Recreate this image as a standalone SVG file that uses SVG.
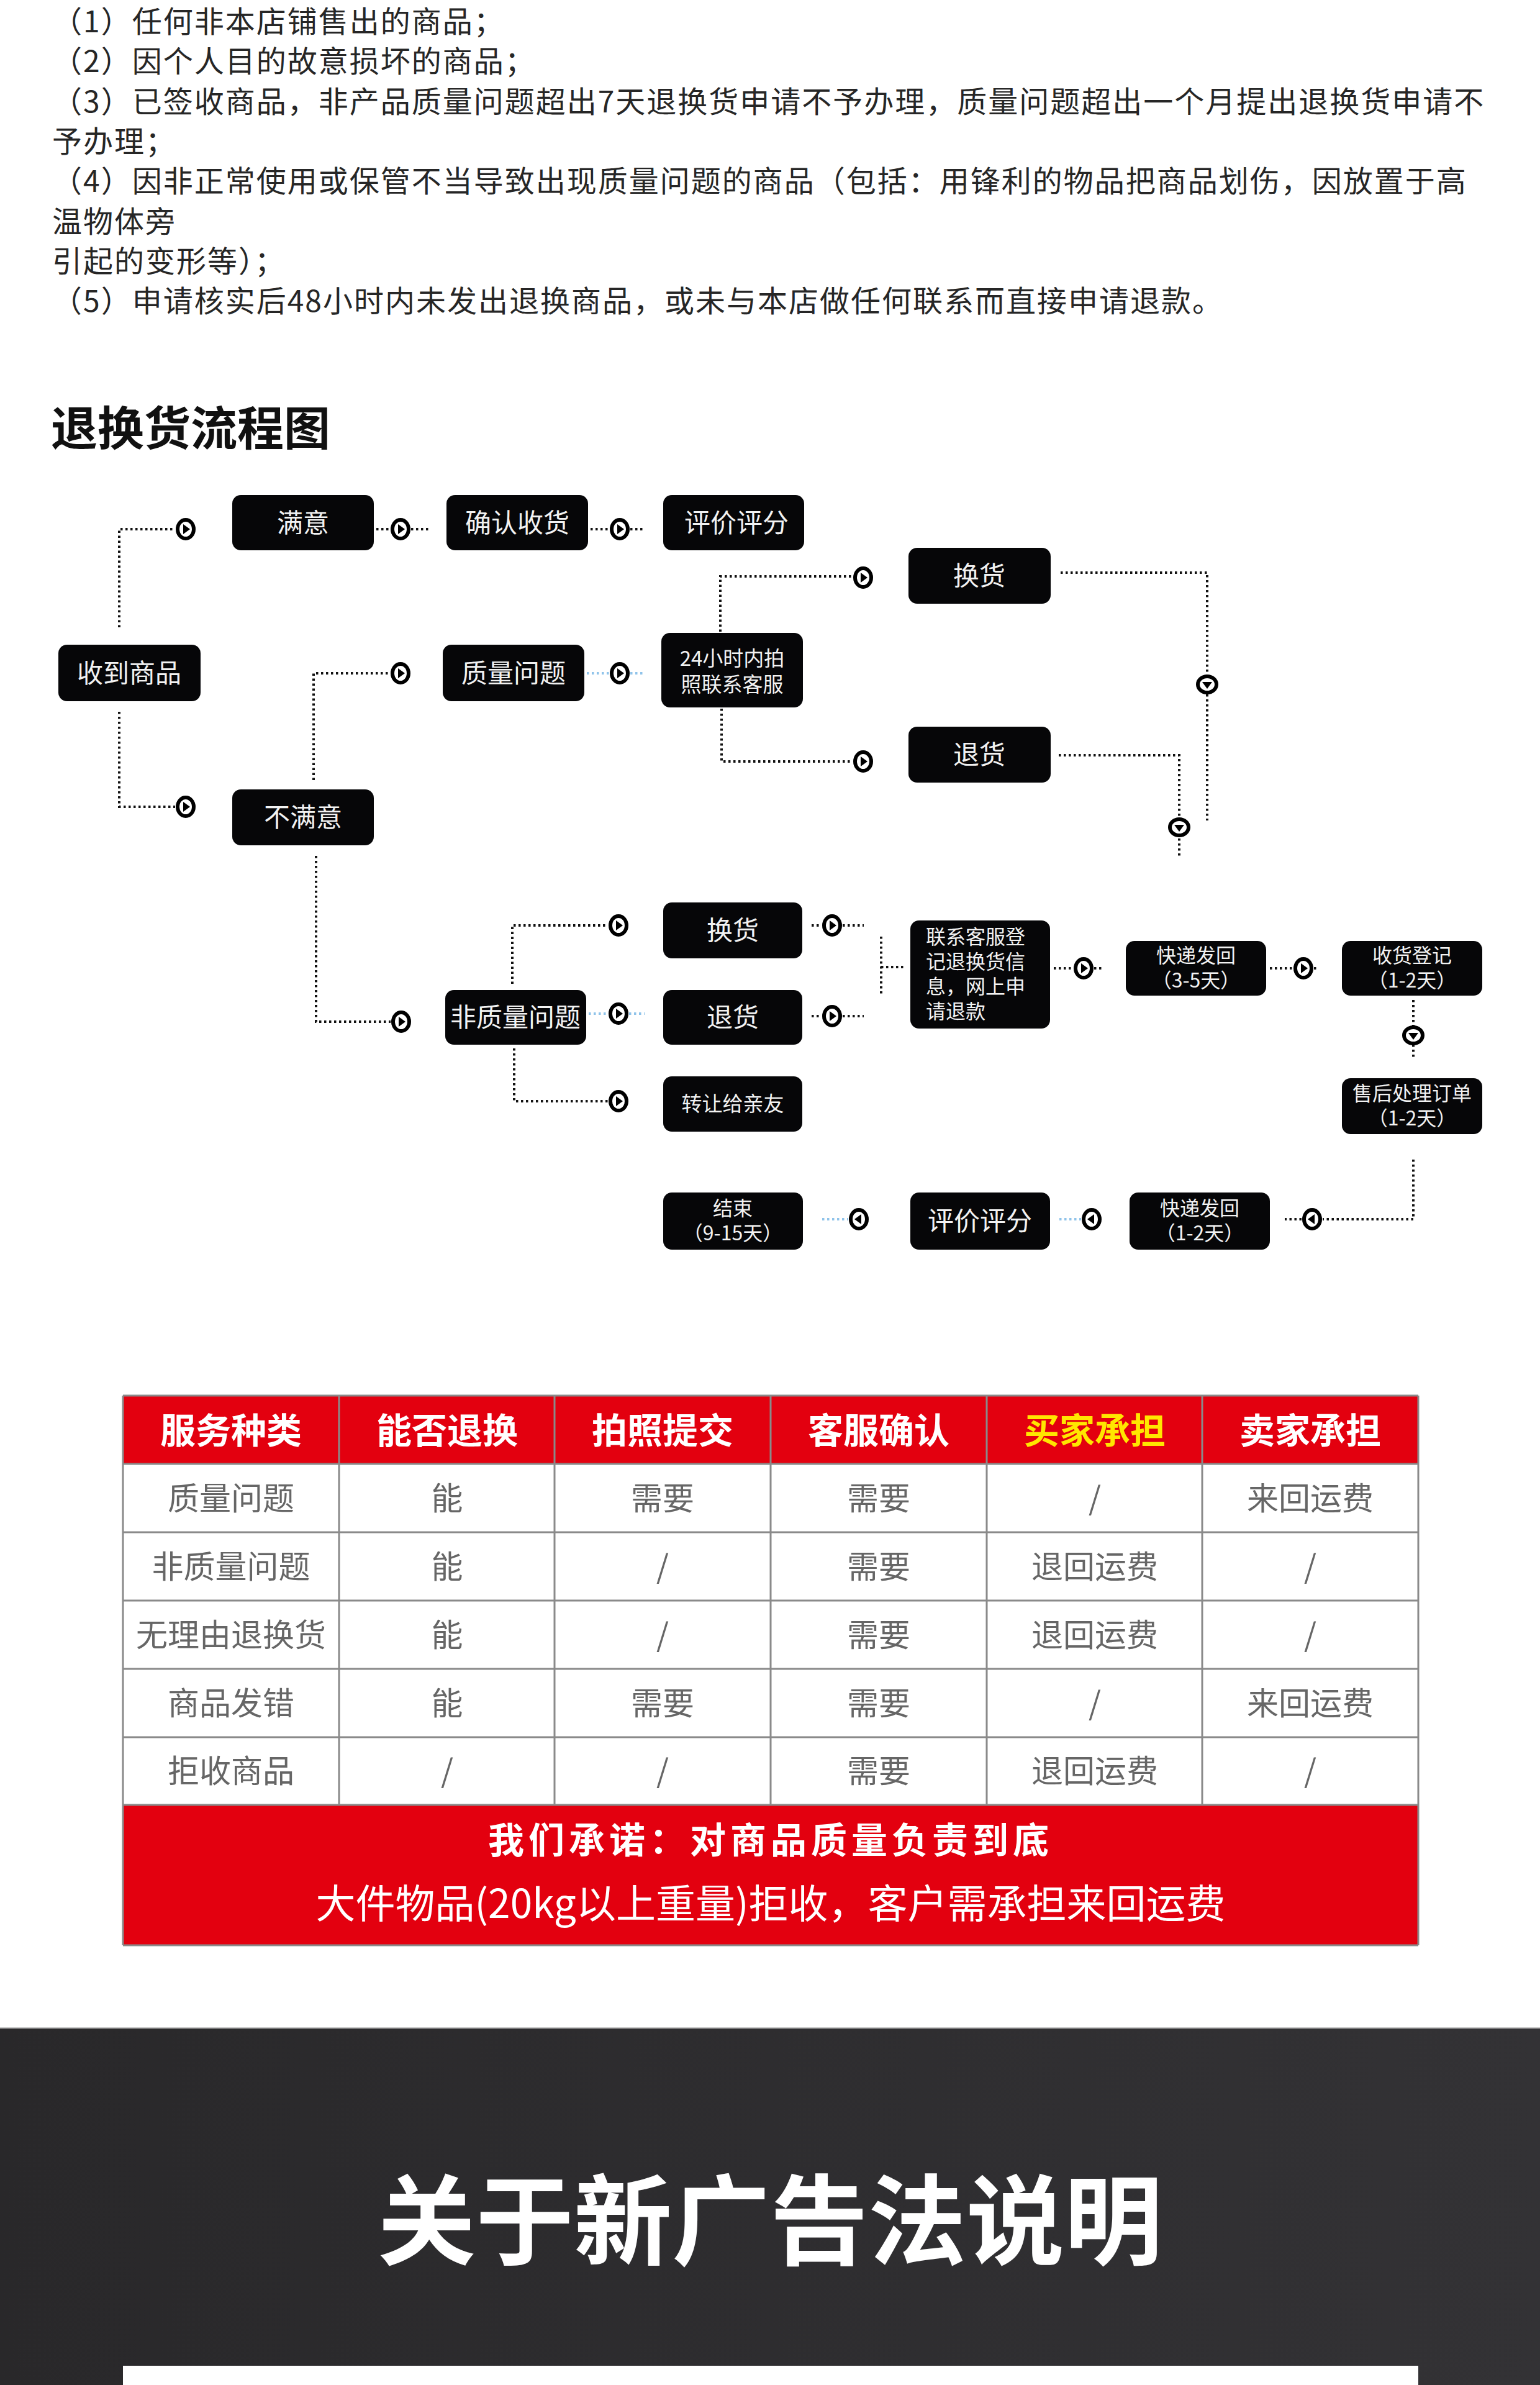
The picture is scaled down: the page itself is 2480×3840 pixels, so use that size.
<svg xmlns="http://www.w3.org/2000/svg" width="2480" height="3840" viewBox="0 0 2480 3840">
<style>
.t{font-family:"Noto Sans CJK SC","Noto Sans",sans-serif;}
.p{font-size:48px;letter-spacing:2px;fill:#262626;}
.bx{fill:#060608;}
.bt{font-size:42px;fill:#f2f2f2;text-anchor:middle;}
.bs{font-size:32px;fill:#f2f2f2;text-anchor:middle;}
.bm{font-size:33px;fill:#f2f2f2;text-anchor:middle;}
.bl{font-size:32px;fill:#f2f2f2;}
.dl{fill:none;stroke:#111;stroke-width:4;stroke-dasharray:3.5 4.5;}
.db{fill:none;stroke:#8fc3ea;stroke-width:4;stroke-dasharray:3.5 4.5;}
.th{font-size:57px;font-weight:700;fill:#fff;text-anchor:middle;}
.td{font-size:51px;fill:#666;text-anchor:middle;}
.gl{stroke:#8a8a8a;stroke-width:3;}
</style>
<defs>
<g id="mk"><ellipse cx="0" cy="0" rx="13" ry="15" fill="#fff" stroke="#000" stroke-width="6"/><path d="M-4,-8 L7,0 L-4,8 Z" fill="#000"/></g>
<linearGradient id="dk" x1="0" y1="0" x2="1" y2="0"><stop offset="0" stop-color="#29282a"/><stop offset="1" stop-color="#333235"/></linearGradient>
</defs>
<rect width="2480" height="3840" fill="#fff"/>

<g id="rules" class="t p">
<text x="84" y="52">（1）任何非本店铺售出的商品；</text>
<text x="84" y="116">（2）因个人目的故意损坏的商品；</text>
<text x="84" y="181">（3）已签收商品，非产品质量问题超出7天退换货申请不予办理，质量问题超出一个月提出退换货申请不</text>
<text x="84" y="245">予办理；</text>
<text x="84" y="309">（4）因非正常使用或保管不当导致出现质量问题的商品（包括：用锋利的物品把商品划伤，因放置于高</text>
<text x="84" y="374">温物体旁</text>
<text x="84" y="438">引起的变形等）；</text>
<text x="84" y="502">（5）申请核实后48小时内未发出退换商品，或未与本店做任何联系而直接申请退款。</text>
</g>

<text id="flow-title" class="t" x="82" y="717" font-size="75" font-weight="700" fill="#111">退换货流程图</text>

<g id="connectors">
<path class="dl" d="M192,1010 V852 H282"/>
<path class="dl" d="M192,1146 V1299 H282"/>
<path class="dl" d="M606,852 H628 M662,852 H690"/>
<path class="dl" d="M951,852 H981 M1015,852 H1036"/>
<path class="dl" d="M505,1256 V1084 H628"/>
<path class="db" d="M945,1084 H981 M1015,1084 H1036"/>
<path class="dl" d="M1160,1017 V928 H1373"/>
<path class="dl" d="M1162,1141 V1226 H1373"/>
<path class="dl" d="M1708,922 H1944 V1321"/>
<path class="dl" d="M1705,1216 H1899 V1382"/>
<path class="dl" d="M509,1378 V1645 H629"/>
<path class="dl" d="M825,1584 V1490 H979"/>
<path class="db" d="M948,1632 H979 M1013,1632 H1038"/>
<path class="dl" d="M828,1688 V1773 H979"/>
<path class="dl" d="M1307,1490 H1323 M1357,1490 H1391"/>
<path class="dl" d="M1307,1636 H1323 M1357,1636 H1391"/>
<path class="dl" d="M1419,1508 V1604 M1419,1557 H1456"/>
<path class="dl" d="M1697,1559 H1728 M1762,1559 H1778"/>
<path class="dl" d="M2045,1559 H2082 M2116,1559 H2124"/>
<path class="dl" d="M2276,1610 V1704"/>
<path class="dl" d="M2276,1867 V1963 H2130 M2096,1963 H2069"/>
<path class="db" d="M1706,1963 H1741"/>
<path class="db" d="M1324,1963 H1366"/>
<use href="#mk" transform="translate(299,852)"/>
<use href="#mk" transform="translate(299,1299)"/>
<use href="#mk" transform="translate(645,852)"/>
<use href="#mk" transform="translate(998,852)"/>
<use href="#mk" transform="translate(645,1084)"/>
<use href="#mk" transform="translate(998,1084)"/>
<use href="#mk" transform="translate(1390,930)"/>
<use href="#mk" transform="translate(1390,1226)"/>
<use href="#mk" transform="translate(1944,1102) rotate(90)"/>
<use href="#mk" transform="translate(1899,1332) rotate(90)"/>
<use href="#mk" transform="translate(646,1645)"/>
<use href="#mk" transform="translate(996,1490)"/>
<use href="#mk" transform="translate(996,1632)"/>
<use href="#mk" transform="translate(996,1773)"/>
<use href="#mk" transform="translate(1340,1490)"/>
<use href="#mk" transform="translate(1340,1636)"/>
<use href="#mk" transform="translate(1745,1559)"/>
<use href="#mk" transform="translate(2099,1559)"/>
<use href="#mk" transform="translate(2276,1667) rotate(90)"/>
<use href="#mk" transform="translate(2113,1963) rotate(180)"/>
<use href="#mk" transform="translate(1758,1963) rotate(180)"/>
<use href="#mk" transform="translate(1383,1963) rotate(180)"/>
</g>

<g id="n-receive" class="t"><rect class="bx" x="94" y="1038" width="229" height="91" rx="14"/><text class="bt" x="208" y="1099">收到商品</text></g>
<g id="n-satisfied" class="t"><rect class="bx" x="374" y="797" width="228" height="89" rx="14"/><text class="bt" x="488" y="857">满意</text></g>
<g id="n-confirm" class="t"><rect class="bx" x="719" y="797" width="228" height="89" rx="14"/><text class="bt" x="833" y="857">确认收货</text></g>
<g id="n-rate1" class="t"><rect class="bx" x="1068" y="797" width="227" height="89" rx="14"/><text class="bt" x="1186" y="857">评价评分</text></g>
<g id="n-unsatisfied" class="t"><rect class="bx" x="374" y="1271" width="228" height="90" rx="14"/><text class="bt" x="488" y="1331">不满意</text></g>
<g id="n-quality" class="t"><rect class="bx" x="713" y="1038" width="228" height="91" rx="14"/><text class="bt" x="827" y="1099">质量问题</text></g>
<g id="n-24h" class="t"><rect class="bx" x="1065" y="1019" width="228" height="120" rx="14"/><text class="bm"><tspan x="1179" y="1072">24小时内拍</tspan><tspan x="1179" y="1114">照联系客服</tspan></text></g>
<g id="n-exchange1" class="t"><rect class="bx" x="1463" y="882" width="229" height="90" rx="14"/><text class="bt" x="1577" y="942">换货</text></g>
<g id="n-return1" class="t"><rect class="bx" x="1463" y="1170" width="229" height="90" rx="14"/><text class="bt" x="1577" y="1230">退货</text></g>
<g id="n-nonquality" class="t"><rect class="bx" x="717" y="1594" width="227" height="88" rx="14"/><text class="bt" x="830" y="1653">非质量问题</text></g>
<g id="n-exchange2" class="t"><rect class="bx" x="1068" y="1453" width="224" height="90" rx="14"/><text class="bt" x="1180" y="1513">换货</text></g>
<g id="n-return2" class="t"><rect class="bx" x="1068" y="1594" width="224" height="88" rx="14"/><text class="bt" x="1180" y="1653">退货</text></g>
<g id="n-transfer" class="t"><rect class="bx" x="1068" y="1733" width="224" height="89" rx="14"/><text class="bm" x="1180" y="1789">转让给亲友</text></g>
<g id="n-contact" class="t"><rect class="bx" x="1466" y="1482" width="225" height="174" rx="14"/>
<text class="bl"><tspan x="1491" y="1520">联系客服登</tspan><tspan x="1491" y="1560">记退换货信</tspan><tspan x="1491" y="1600">息，网上申</tspan><tspan x="1491" y="1640">请退款</tspan></text></g>
<g id="n-ship1" class="t"><rect class="bx" x="1813" y="1515" width="226" height="88" rx="14"/><text class="bs"><tspan x="1926" y="1550">快递发回</tspan><tspan x="1926" y="1590">（3-5天）</tspan></text></g>
<g id="n-recv-reg" class="t"><rect class="bx" x="2161" y="1515" width="226" height="88" rx="14"/><text class="bs"><tspan x="2274" y="1550">收货登记</tspan><tspan x="2274" y="1590">（1-2天）</tspan></text></g>
<g id="n-aftersale" class="t"><rect class="bx" x="2161" y="1736" width="226" height="90" rx="14"/><text class="bs"><tspan x="2274" y="1772">售后处理订单</tspan><tspan x="2274" y="1812">（1-2天）</tspan></text></g>
<g id="n-ship2" class="t"><rect class="bx" x="1819" y="1920" width="226" height="92" rx="14"/><text class="bs"><tspan x="1932" y="1957">快递发回</tspan><tspan x="1932" y="1997">（1-2天）</tspan></text></g>
<g id="n-rate2" class="t"><rect class="bx" x="1466" y="1920" width="225" height="92" rx="14"/><text class="bt" x="1578" y="1981">评价评分</text></g>
<g id="n-end" class="t"><rect class="bx" x="1068" y="1920" width="225" height="92" rx="14"/><text class="bs"><tspan x="1180" y="1957">结束</tspan><tspan x="1180" y="1997">（9-15天）</tspan></text></g>

<g id="table" class="t">
<rect x="198" y="2247" width="2086" height="110" fill="#e3000f"/>
<rect x="198" y="2906" width="2086" height="226" fill="#e3000f"/>
<g class="gl">
<line x1="198" y1="2247" x2="198" y2="3132"/>
<line x1="2284" y1="2247" x2="2284" y2="3132"/>
<line x1="198" y1="2247" x2="2284" y2="2247"/>
<line x1="198" y1="2357" x2="2284" y2="2357"/>
<line x1="198" y1="2467" x2="2284" y2="2467"/>
<line x1="198" y1="2577" x2="2284" y2="2577"/>
<line x1="198" y1="2687" x2="2284" y2="2687"/>
<line x1="198" y1="2797" x2="2284" y2="2797"/>
<line x1="198" y1="2906" x2="2284" y2="2906"/>
<line x1="198" y1="3132" x2="2284" y2="3132"/>
<line x1="546" y1="2247" x2="546" y2="2906"/>
<line x1="893" y1="2247" x2="893" y2="2906"/>
<line x1="1241" y1="2247" x2="1241" y2="2906"/>
<line x1="1589" y1="2247" x2="1589" y2="2906"/>
<line x1="1936" y1="2247" x2="1936" y2="2906"/>
</g>
<text class="th" x="372" y="2324">服务种类</text>
<text class="th" x="720" y="2324">能否退换</text>
<text class="th" x="1067" y="2324">拍照提交</text>
<text class="th" x="1415" y="2324">客服确认</text>
<text class="th" x="1763" y="2324" style="fill:#ffe600">买家承担</text>
<text class="th" x="2110" y="2324">卖家承担</text>

<text class="td" x="372" y="2431">质量问题</text><text class="td" x="720" y="2431">能</text><text class="td" x="1067" y="2431">需要</text><text class="td" x="1415" y="2431">需要</text><text class="td" x="1763" y="2431">/</text><text class="td" x="2110" y="2431">来回运费</text>
<text class="td" x="372" y="2541">非质量问题</text><text class="td" x="720" y="2541">能</text><text class="td" x="1067" y="2541">/</text><text class="td" x="1415" y="2541">需要</text><text class="td" x="1763" y="2541">退回运费</text><text class="td" x="2110" y="2541">/</text>
<text class="td" x="372" y="2651">无理由退换货</text><text class="td" x="720" y="2651">能</text><text class="td" x="1067" y="2651">/</text><text class="td" x="1415" y="2651">需要</text><text class="td" x="1763" y="2651">退回运费</text><text class="td" x="2110" y="2651">/</text>
<text class="td" x="372" y="2761">商品发错</text><text class="td" x="720" y="2761">能</text><text class="td" x="1067" y="2761">需要</text><text class="td" x="1415" y="2761">需要</text><text class="td" x="1763" y="2761">/</text><text class="td" x="2110" y="2761">来回运费</text>
<text class="td" x="372" y="2870">拒收商品</text><text class="td" x="720" y="2870">/</text><text class="td" x="1067" y="2870">/</text><text class="td" x="1415" y="2870">需要</text><text class="td" x="1763" y="2870">退回运费</text><text class="td" x="2110" y="2870">/</text>

<text x="1241" y="2984" font-size="58" font-weight="700" fill="#fff" text-anchor="middle" letter-spacing="7">我们承诺：对商品质量负责到底</text>
<text x="1241" y="3088" font-size="64" fill="#fff" text-anchor="middle">大件物品(20kg以上重量)拒收，客户需承担来回运费</text>
</g>

<g id="ad-law">
<rect x="0" y="3265" width="2480" height="575" fill="url(#dk)"/>
<line x1="0" y1="3265" x2="2480" y2="3265" stroke="#c8c8c8" stroke-width="2"/>
<text class="t" x="1240" y="3634" font-size="158" font-weight="700" fill="#fff" text-anchor="middle">关于新广告法说明</text>
<rect x="198" y="3809" width="2086" height="31" fill="#fff"/>
</g>
</svg>
